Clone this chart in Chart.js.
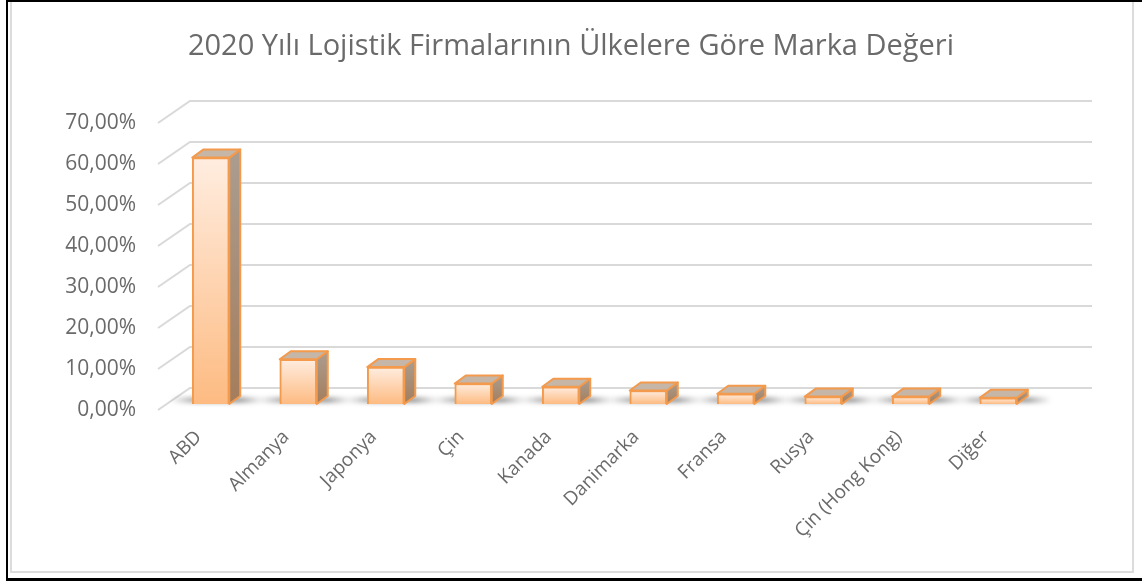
<!DOCTYPE html>
<html>
<head>
<meta charset="utf-8">
<script src="https://cdn.jsdelivr.net/npm/chart.js@4.4.1/dist/chart.umd.min.js"></script>
<style>
  html, body { margin: 0; padding: 0; background: #fff; }
  #wrap { width: 1142px; height: 581px; position: relative; }
</style>
</head>
<body>
<div id="wrap"><canvas id="brandChart" width="1142" height="581"></canvas></div>
<script>
// chart data
const chartTitle = '2020 Yılı Lojistik Firmalarının Ülkelere Göre Marka Değeri';
const countries = ['ABD', 'Almanya', 'Japonya', 'Çin', 'Kanada', 'Danimarka', 'Fransa', 'Rusya', 'Çin (Hong Kong)', 'Diğer'];
const brandShare = [60.1, 10.9, 9.0, 5.0, 4.2, 3.3, 2.5, 1.8, 1.8, 1.5];
const yTicks = [0, 10, 20, 30, 40, 50, 60, 70];

const gridColor = '#d9d9d9';
const edgeColor = '#f39a4c';
const textColor = '#6a6a6a';

// 3d depth of the walls and of the bars
const wallDx = 32, wallDy = -22;
const barDx = 11, barDy = -8;

const formatPct = v => v.toFixed(2).replace('.', ',') + '%';

// frame around the picture + centred title
const framePlugin = {
  id: 'frame',
  beforeDraw(chart) {
    const ctx = chart.ctx;
    ctx.save();
    ctx.fillStyle = '#fff';
    ctx.fillRect(0, 0, chart.width, chart.height);
    ctx.fillStyle = '#000';
    ctx.fillRect(6, 0, chart.width - 6, 2);
    ctx.fillRect(6, 0, 2, chart.height);
    ctx.fillRect(6, chart.height - 3, chart.width - 6, 3);
    ctx.strokeStyle = '#dcdcdc';
    ctx.lineWidth = 2;
    ctx.beginPath();
    ctx.moveTo(11, 2);
    ctx.lineTo(11, 572);
    ctx.lineTo(1133, 572);
    ctx.lineTo(1133, 2);
    ctx.stroke();

    ctx.fillStyle = textColor;
    ctx.font = '29px "Open Sans"';
    ctx.textAlign = 'center';
    ctx.textBaseline = 'middle';
    ctx.fillText(chartTitle, 571, 47);
    ctx.restore();
  }
};

// back wall grid + floor shadows
const wallPlugin = {
  id: 'wall',
  beforeDatasetsDraw(chart) {
    const ctx = chart.ctx;
    const y = chart.scales.y;
    const area = chart.chartArea;
    const xl = area.left - 9;
    ctx.save();
    ctx.strokeStyle = gridColor;
    ctx.lineWidth = 2;
    yTicks.forEach(v => {
      const py = y.getPixelForValue(v);
      ctx.beginPath();
      ctx.moveTo(xl, py);
      ctx.lineTo(xl + wallDx, py + wallDy);
      ctx.lineTo(area.right + 50, py + wallDy);
      ctx.stroke();
    });
    // soft shadows on the floor
    const meta = chart.getDatasetMeta(0);
    meta.data.forEach(bar => {
      const left = bar.x - bar.width / 2;
      const g = ctx.createLinearGradient(left - 22, 0, left + bar.width + 34, 0);
      g.addColorStop(0, 'rgba(90,90,90,0)');
      g.addColorStop(0.3, 'rgba(90,90,90,0.55)');
      g.addColorStop(0.75, 'rgba(90,90,90,0.55)');
      g.addColorStop(1, 'rgba(90,90,90,0)');
      ctx.fillStyle = g;
      ctx.filter = 'blur(2px)';
      ctx.fillRect(left - 22, bar.base - 7, bar.width + 56, 6);
      ctx.filter = 'none';
    });
    ctx.restore();
  },
  afterDatasetsDraw(chart) {
    const ctx = chart.ctx;
    const meta = chart.getDatasetMeta(0);
    ctx.save();
    ctx.lineWidth = 2;
    ctx.strokeStyle = edgeColor;
    ctx.lineJoin = 'round';
    meta.data.forEach(bar => {
      const left = bar.x - bar.width / 2;
      const right = bar.x + bar.width / 2;
      const top = bar.y, bottom = bar.base;
      // side face
      const sg = ctx.createLinearGradient(0, top + barDy, 0, bottom);
      sg.addColorStop(0, '#ab9d90');
      sg.addColorStop(1, '#a47d5c');
      ctx.fillStyle = sg;
      ctx.beginPath();
      ctx.moveTo(right, top);
      ctx.lineTo(right + barDx, top + barDy);
      ctx.lineTo(right + barDx, bottom + barDy);
      ctx.lineTo(right, bottom);
      ctx.closePath();
      ctx.fill();
      ctx.stroke();
      // top face
      ctx.fillStyle = '#c5b6a8';
      ctx.beginPath();
      ctx.moveTo(left, top);
      ctx.lineTo(left + barDx, top + barDy);
      ctx.lineTo(right + barDx, top + barDy);
      ctx.lineTo(right, top);
      ctx.closePath();
      ctx.fill();
      ctx.stroke();
    });
    ctx.restore();
  }
};

const ctx = document.getElementById('brandChart').getContext('2d');
const brandChart = new Chart(ctx, {
  type: 'bar',
  data: {
    labels: countries,
    datasets: [{
      label: 'Marka Değeri',
      data: brandShare,
      yAxisID: 'y2',
      backgroundColor: c => {
        const chart = c.chart;
        if (!chart.chartArea) return '#fdc89a';
        const s = chart.scales.y2;
        const v = c.raw;
        const g = chart.ctx.createLinearGradient(0, s.getPixelForValue(v), 0, s.getPixelForValue(0));
        g.addColorStop(0, '#ffede0');
        g.addColorStop(1, '#fdbb82');
        return g;
      },
      borderColor: edgeColor,
      borderWidth: 2,
      barThickness: 37
    }]
  },
  options: {
    responsive: false,
    animation: false,
    layout: { padding: { left: 20, right: 100, top: 123, bottom: 0 } },
    plugins: {
      legend: { display: false },
      tooltip: { enabled: false },
      title: { display: false }
    },
    scales: {
      x: {
        grid: { display: false, drawTicks: false },
        border: { display: false },
        ticks: {
          color: textColor,
          font: { family: 'Open Sans', size: 19 },
          maxRotation: 45,
          minRotation: 45,
          padding: 16,
          labelOffset: -12
        },
        afterFit: s => { s.height = 171; }
      },
      y: {
        min: 0,
        max: 70,
        grid: { display: false, drawTicks: false },
        border: { display: false },
        ticks: {
          stepSize: 10,
          color: textColor,
          font: { family: 'Open Sans', size: 21 },
          padding: 31,
          callback: v => formatPct(v)
        },
        afterFit: s => { s.width = 147; }
      },
      y2: {
        display: false,
        min: -6 / 4.1,
        max: 70 - 6 / 4.1
      }
    }
  },
  plugins: [framePlugin, wallPlugin]
});
</script>
</body>
</html>
